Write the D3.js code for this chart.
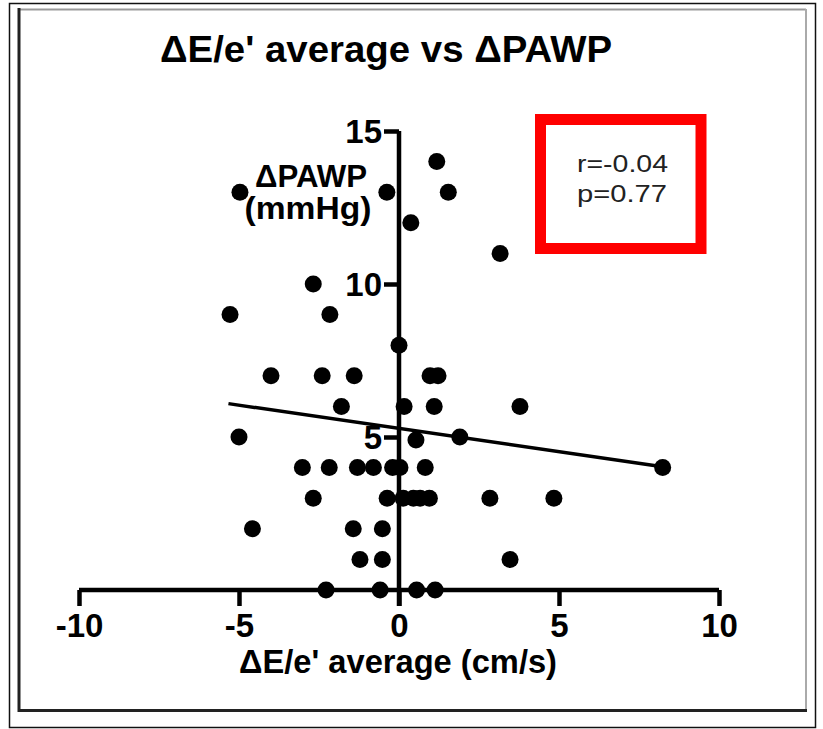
<!DOCTYPE html>
<html>
<head>
<meta charset="utf-8">
<script src="https://cdn.jsdelivr.net/npm/d3@7"></script>
<style>
  body { margin: 0; background: #fff; }
  svg { display: block; font-family: "Liberation Sans", Arial, Helvetica, sans-serif; }
</style>
</head>
<body>
<svg id="chart" width="823" height="729"></svg>
<script>
// values
const deltaE = [1.18, -4.97, -0.38, 1.54, 0.37, 3.16, -2.68, -5.28, -2.16, 0,
  -4.0, -2.4, -1.4, 0.97, 1.22, -1.8, 0.16, 1.1, 3.78, -5.0, 0.53, 1.9,
  -3.02, -2.18, -1.30, -0.80, -0.2, 0.03, 0.82, 8.24,
  -2.68, -0.37, 0.13, 0.45, 0.66, 0.95, 2.84, 4.84,
  -4.58, -1.43, -0.52, -1.22, -0.52, 3.47, -2.28, -0.59, 0.55, 1.13];
const deltaPAWP = [14, 13, 13, 13, 12, 11, 10, 9, 9, 8,
  7, 7, 7, 7, 7, 6, 6, 6, 6, 5, 4.9, 5,
  4, 4, 4, 4, 4, 4, 4, 4,
  3, 3, 3, 3, 3, 3, 3, 3,
  2, 2, 2, 1, 1, 1, 0, 0, 0, 0];
const xTicks = [-10, -5, 0, 5, 10];
const yTicks = [5, 10, 15];
const fitSlope = -0.152;
const fitIntercept = 5.28;
const statLines = ["r=-0.04", "p=0.77"];

const svg = d3.select("#chart");
const x = d3.scaleLinear().domain([-10, 10]).range([79, 719]);
const y = d3.scaleLinear().domain([0, 15]).range([590, 131]);

// outer frame
svg.append("rect").attr("x", 9.5).attr("y", 3.5).attr("width", 806).attr("height", 724)
  .attr("fill", "none").attr("stroke", "#111").attr("stroke-width", 1.5);
svg.append("line").attr("x1", 19).attr("x2", 806).attr("y1", 9.5).attr("y2", 9.5)
  .attr("stroke", "#999").attr("stroke-width", 2);
svg.append("line").attr("x1", 806).attr("x2", 806).attr("y1", 9).attr("y2", 711)
  .attr("stroke", "#aaa").attr("stroke-width", 2);
svg.append("line").attr("x1", 19).attr("x2", 19).attr("y1", 8).attr("y2", 712)
  .attr("stroke", "#222").attr("stroke-width", 3);
svg.append("line").attr("x1", 18).attr("x2", 807).attr("y1", 710.5).attr("y2", 710.5)
  .attr("stroke", "#222").attr("stroke-width", 3);

// title
svg.append("text").attr("x", 386).attr("y", 62).attr("text-anchor", "middle")
  .attr("font-size", 37).attr("font-weight", "bold")
  .attr("textLength", 452).attr("lengthAdjust", "spacingAndGlyphs")
  .text("ΔE/e' average vs ΔPAWP");

// axes
const xAxis = svg.append("g").attr("transform", `translate(0,${y(0)})`)
  .call(d3.axisBottom(x).tickValues(xTicks).tickSize(16).tickPadding(8).tickSizeOuter(0));
const yAxis = svg.append("g").attr("transform", `translate(${x(0)},0)`)
  .call(d3.axisLeft(y).tickValues(yTicks).tickSize(15).tickPadding(2).tickSizeOuter(0).tickFormat(d3.format("d")));

[xAxis, yAxis].forEach(g => {
  g.select(".domain").attr("stroke", "#000").attr("stroke-width", 4.5);
  g.selectAll(".tick line").attr("stroke", "#000").attr("stroke-width", 4.5);
  g.selectAll(".tick text").attr("fill", "#000").attr("font-size", 33)
    .attr("font-weight", "bold").attr("font-family", "'Liberation Sans', Arial, sans-serif");
});
xAxis.select(".domain").attr("d", `M${x(-10)},0H${x(10)}`);
xAxis.selectAll(".tick text").attr("dy", "0.71em").text(d => d3.format("d")(d).replace("−", "-"));
yAxis.select(".domain").attr("d", `M0,${y(15)}V${y(0) + 16}`);
yAxis.selectAll(".tick text").attr("dy", "0.36em");

// axis titles
svg.append("text").attr("x", 398).attr("y", 673).attr("text-anchor", "middle")
  .attr("font-size", 34).attr("font-weight", "bold")
  .attr("textLength", 318).attr("lengthAdjust", "spacingAndGlyphs")
  .text("ΔE/e' average (cm/s)");
svg.append("text").attr("x", 311).attr("y", 187).attr("text-anchor", "middle")
  .attr("font-size", 31).attr("font-weight", "bold")
  .attr("textLength", 112).attr("lengthAdjust", "spacingAndGlyphs")
  .text("ΔPAWP");
svg.append("text").attr("x", 308).attr("y", 219).attr("text-anchor", "middle")
  .attr("font-size", 31).attr("font-weight", "bold")
  .attr("textLength", 127).attr("lengthAdjust", "spacingAndGlyphs")
  .text("(mmHg)");

// regression line
const xExt = d3.extent(deltaE);
svg.append("line")
  .attr("x1", x(xExt[0] - 0.05)).attr("y1", y(fitIntercept + fitSlope * (xExt[0] - 0.05)))
  .attr("x2", x(xExt[1])).attr("y2", y(fitIntercept + fitSlope * xExt[1]))
  .attr("stroke", "#000").attr("stroke-width", 3.5);

// points
svg.append("g").selectAll("circle")
  .data(deltaE.map((d, i) => [d, deltaPAWP[i]]))
  .join("circle")
  .attr("cx", d => x(d[0]))
  .attr("cy", d => y(d[1]))
  .attr("r", 8.5)
  .attr("fill", "#000");

// stats box
svg.append("rect").attr("x", 540.5).attr("y", 119.5).attr("width", 160.5).attr("height", 129)
  .attr("fill", "#fff").attr("stroke", "#ff0000").attr("stroke-width", 11);
svg.selectAll(".stat").data(statLines).join("text")
  .attr("class", "stat")
  .attr("x", 577).attr("y", (d, i) => 172 + i * 30)
  .attr("font-size", 24).attr("fill", "#222")
  .attr("textLength", (d, i) => i === 0 ? 91 : 90).attr("lengthAdjust", "spacingAndGlyphs")
  .text(d => d);
</script>
</body>
</html>
